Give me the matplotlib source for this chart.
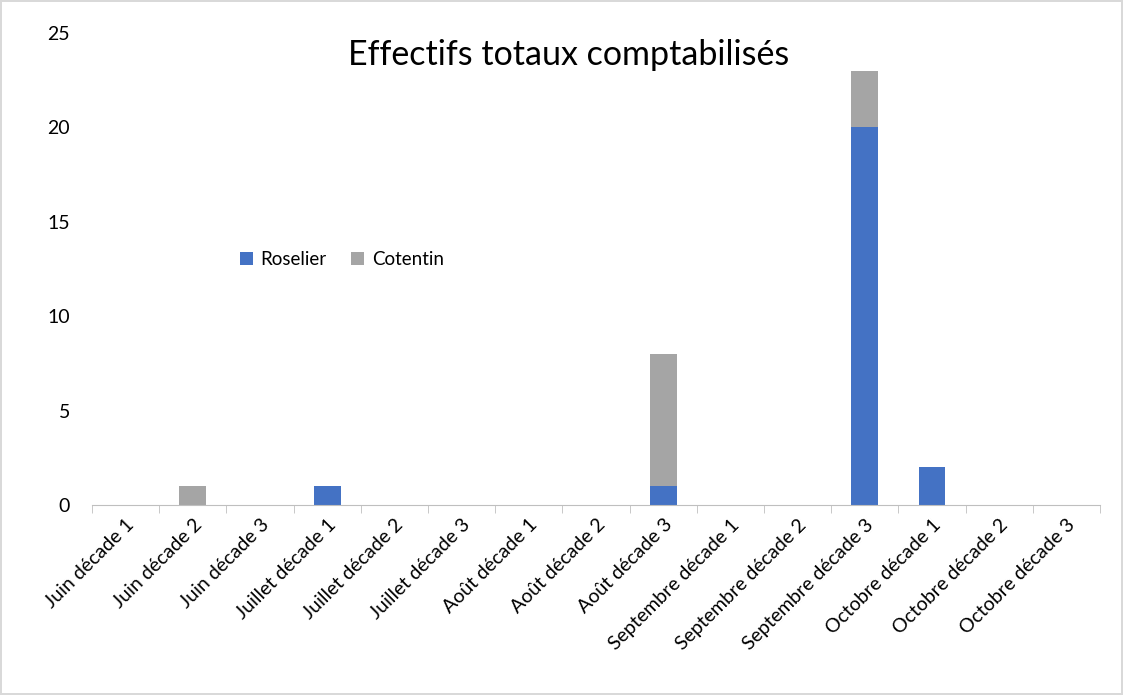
import matplotlib.pyplot as plt
import numpy as np

plt.rcParams['font.family'] = ['Lato', 'DejaVu Sans']

categories = ["Juin décade 1", "Juin décade 2", "Juin décade 3",
              "Juillet décade 1", "Juillet décade 2", "Juillet décade 3",
              "Août décade 1", "Août décade 2", "Août décade 3",
              "Septembre décade 1", "Septembre décade 2", "Septembre décade 3",
              "Octobre décade 1", "Octobre décade 2", "Octobre décade 3"]
roselier = [0, 0, 0, 1, 0, 0, 0, 0, 1, 0, 0, 20, 2, 0, 0]
cotentin = [0, 1, 0, 0, 0, 0, 0, 0, 7, 0, 0, 3, 0, 0, 0]
y_ticks = [0, 5, 10, 15, 20, 25]

fig = plt.figure(figsize=(11.23, 6.95), dpi=100, edgecolor='#d9d9d9', linewidth=1.5)
ax = fig.add_axes([0.082, 0.2734, 0.8975, 0.6791])

x = np.arange(len(categories))
ax.bar(x, roselier, width=0.4, color='#4472C4', label='Roselier')
ax.bar(x, cotentin, width=0.4, bottom=roselier, color='#A5A5A5', label='Cotentin')

ax.set_xlim(-0.5, len(categories) - 0.5)
ax.set_ylim(0, 25)
ax.set_yticks(y_ticks)
ax.tick_params(axis='y', length=0, labelsize=14, colors='#000000', pad=16)

ax.set_xticks(x)
ax.set_xticklabels(categories, rotation=45, ha='right', rotation_mode='anchor', fontsize=14)
ax.tick_params(axis='x', which='major', length=0, pad=8)
ax.set_xticks(np.arange(-0.5, len(categories)), minor=True)
ax.tick_params(axis='x', which='minor', length=6, color='#bfbfbf')

for side in ['top', 'right', 'left']:
    ax.spines[side].set_visible(False)
ax.spines['bottom'].set_color('#bfbfbf')

fig.text(0.506, 0.921, "Effectifs totaux comptabilisés", ha='center', va='center', fontsize=24.5)

ax.legend(loc='center left', bbox_to_anchor=(0.13, 0.52), ncol=2, frameon=False,
          fontsize=13.5, handlelength=0.7, handleheight=0.7, handletextpad=0.4, columnspacing=1.3)

fig.savefig('out.png', dpi=100)
